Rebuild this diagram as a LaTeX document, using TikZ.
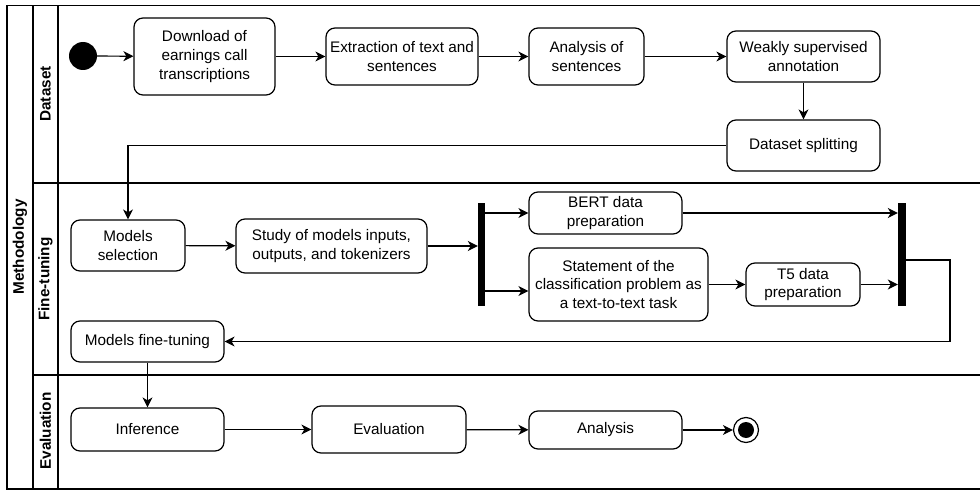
\documentclass[tikz,border=0pt]{standalone}
\usepackage{fontspec}
\setsansfont{Liberation Sans}
\usepackage{tikz}
\tikzset{every picture/.style={/utils/exec={\sffamily}}}
\usetikzlibrary{arrows.meta, calc}
\tikzset{
  activity/.style 2 args={draw, rounded corners=9pt, line width=1.2pt, align=center, inner sep=0pt,
    minimum width=#1pt, minimum height=#2pt, font=\fontsize{15.3}{18.7}\selectfont},
  forkbar/.style 2 args={fill=black, inner sep=0pt, minimum width=#1pt, minimum height=#2pt},
  initial/.style={circle, fill=black, inner sep=0pt, minimum size=28pt},
  final/.style={circle, draw, line width=1.2pt, inner sep=0pt, minimum size=25pt,
    path picture={\fill (path picture bounding box.center) circle (8pt);}},
  flow/.style={-{Stealth[length=10pt, width=10pt, inset=3pt]}, line width=1.2pt},
  lane/.style={line width=1.6pt},
  lanetitle/.style={rotate=90, font=\fontsize{15.3}{18.7}\selectfont\bfseries},
}

\begin{document}
\begin{tikzpicture}[x=1pt, y=-1pt]
    \useasboundingbox (0,0) rectangle (980,492);
    % swimlanes
    \begin{scope}
        \clip (0,0) rectangle (980,492);
        \draw[lane] (7,5.5) rectangle (1000,489);
        \draw[lane] (33,5.5) -- (33,489);
        \draw[lane] (58,5.5) -- (58,489);
        \draw[lane] (33,183) -- (1000,183);
        \draw[lane] (33,375) -- (1000,375);
    \end{scope}
    \node[lanetitle] (methodology) at (20,247) {Methodology};
    \node[lanetitle] (dataset) at (45.5,94) {Dataset};
    \node[lanetitle] (finetuning) at (45.5,279) {Fine-tuning};
    \node[lanetitle] (evaluation) at (45.5,431) {Evaluation};

    % dataset lane
    \node[initial] (start) at (83,56) {};
    \node[activity={141}{77}] (download) at (204.5,56.5) {Download of\\earnings call\\transcriptions};
    \node[activity={152}{57}] (extraction) at (402,56.5) {Extraction of text and\\sentences};
    \node[activity={115}{57}] (sentences) at (586.5,56.5) {Analysis of\\sentences};
    \node[activity={153}{51}] (annotation) at (803.5,56.5) {Weakly supervised\\annotation};
    \node[activity={153}{51}] (splitting) at (803.5,145.5) {Dataset splitting};

    % fine-tuning lane
    \node[activity={114}{51}] (selection) at (128,245.5) {Models\\selection};
    \node[activity={191}{54}] (study) at (331.5,246) {Study of models inputs,\\outputs, and tokenizers};
    \node[forkbar={7}{103}] (fork) at (481.5,254.5) {};
    \node[activity={153}{42}] (bert) at (605.5,213) {BERT data\\preparation};
    \node[activity={179}{73}] (statement) at (618.5,284.5) {Statement of the\\classification problem as\\a text-to-text task};
    \node[activity={114}{43}] (tfive) at (803,284.5) {T5 data\\preparation};
    \node[forkbar={8}{103}] (join) at (902,254.5) {};
    \node[activity={153}{41}] (finetune) at (147.5,341.5) {Models fine-tuning};

    % evaluation lane
    \node[activity={153}{43}] (inference) at (147.5,429.5) {Inference};
    \node[activity={154}{47}] (evalbox) at (389,429.5) {Evaluation};
    \node[activity={153}{38}] (analysis) at (605.5,430) {Analysis};
    \node[final] (stop) at (746,430) {};

    \coordinate (back) at (950,341.5);

    % flows
    \draw[flow] (start) -- (download);
    \draw[flow] (download) -- (extraction);
    \draw[flow] (extraction) -- (sentences);
    \draw[flow] (sentences) -- (annotation);
    \draw[flow] (annotation) -- (splitting);
    \draw[flow] (splitting.west) -| (selection.north);
    \draw[flow] (selection) -- (study);
    \draw[flow] (study.east) -- (study.east -| fork.west);
    \draw[flow] (fork.east |- bert.west) -- (bert.west);
    \draw[flow] ([yshift=-6.5pt]fork.east |- statement.west) -- ([yshift=-6.5pt]statement.west);
    \draw[flow] (statement) -- (tfive);
    \draw[flow] (tfive.east) -- (tfive.east -| join.west);
    \draw[flow] (bert.east) -- (bert.east -| join.west);
    \draw[flow] ([yshift=-5.5pt]join.east) -| (back) -- (finetune.east);
    \draw[flow] (finetune) -- (inference);
    \draw[flow] (inference) -- (evalbox);
    \draw[flow] (evalbox) -- (analysis);
    \draw[flow] (analysis) -- (stop);
\end{tikzpicture}
\end{document}
